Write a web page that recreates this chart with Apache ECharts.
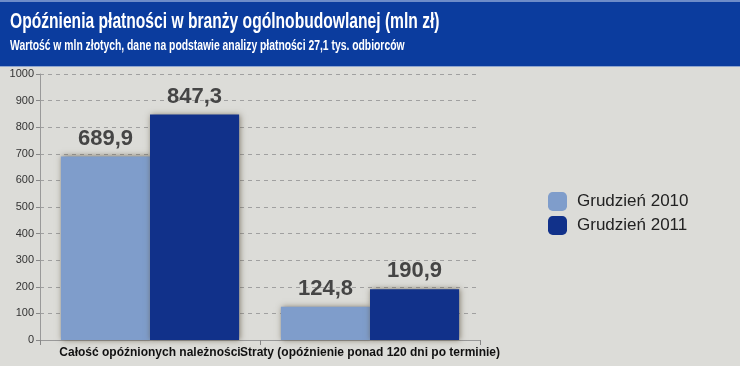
<!DOCTYPE html>
<html><head><meta charset="utf-8">
<script src="https://cdn.jsdelivr.net/npm/echarts@6/dist/echarts.min.js"></script>
<style>html,body{margin:0;padding:0;background:#dcdcd8;}#c{width:740px;height:366px;}</style>
</head><body><div id="c"></div>
<script>
const categories = ['Całość opóźnionych należności', 'Straty (opóźnienie ponad 120 dni po terminie)'];
const seriesNames = ['Grudzień 2010', 'Grudzień 2011'];
const values2010 = [689.9, 124.8];
const values2011 = [847.3, 190.9];
const titleText = 'Opóźnienia płatności w branży ogólnobudowlanej (mln zł)';
const subtitleText = 'Wartość w mln złotych, dane na podstawie analizy płatności 27,1 tys. odbiorców';

const FN = '"Liberation Sans", Arial, sans-serif';
const chart = echarts.init(document.getElementById('c'));
const lbl = {
  show: true, position: 'top', distance: 7,
  formatter: p => p.value.toFixed(1).replace('.', ','),
  fontFamily: FN, fontWeight: 'bold', fontSize: 22, color: '#454545'
};
chart.setOption({
  backgroundColor: '#dcdcd8',
  animation: false,
  graphic: [
    { type: 'rect', shape: { x: 0, y: 0, width: 740, height: 66 }, style: { fill: '#0b3c9e' }, z: 0 },
    { type: 'rect', shape: { x: 0, y: 0, width: 740, height: 2 }, style: { fill: '#6d8cc9' }, z: 1 },
    { type: 'rect', shape: { x: 0, y: 66, width: 740, height: 1 }, style: { fill: '#8fa6d0' }, z: 1 },
    { type: 'text', x: 10, y: 11, scaleX: 0.71, style: { text: titleText, fill: '#fff', font: 'bold 22px ' + FN }, z: 2 },
    { type: 'text', x: 10, y: 39, scaleX: 0.74, style: { text: subtitleText, fill: '#fff', font: 'bold 14px ' + FN }, z: 2 }
  ],
  legend: {
    orient: 'vertical', left: 543, top: 187, itemWidth: 19, itemHeight: 19, itemGap: 5,
    textStyle: { fontFamily: FN, fontSize: 17, color: '#222', padding: [0, 0, 0, 5] },
    data: seriesNames
  },
  grid: { left: 40, right: 260, top: 74, bottom: 26, containLabel: false },
  xAxis: {
    type: 'category', data: categories,
    axisLine: { show: true, lineStyle: { color: '#999' } },
    axisTick: { show: true, alignWithLabel: false, length: 5, lineStyle: { color: '#888' } },
    axisLabel: { interval: 0, margin: 7, fontFamily: FN, fontWeight: 'bold', fontSize: 12, color: '#111' }
  },
  yAxis: {
    type: 'value', min: 0, max: 1000, interval: 100,
    axisLine: { show: true, lineStyle: { color: '#999' } },
    axisTick: { show: true, length: 4, lineStyle: { color: '#888' } },
    axisLabel: { margin: 6, formatter: v => String(v), fontFamily: FN, fontSize: 11, color: '#333' },
    splitLine: { show: true, lineStyle: { color: '#a0a0a0', type: [4, 4] } }
  },
  series: [
    { name: seriesNames[0], type: 'bar', data: values2010, barGap: '0%', barCategoryGap: '19%',
      itemStyle: { color: '#7f9dcb', shadowBlur: 6, shadowColor: 'rgba(90,80,60,0.7)', shadowOffsetX: 1, shadowOffsetY: 0 }, label: lbl },
    { name: seriesNames[1], type: 'bar', data: values2011, barGap: '0%', barCategoryGap: '19%',
      itemStyle: { color: '#11318a', shadowBlur: 6, shadowColor: 'rgba(90,80,60,0.7)', shadowOffsetX: 1, shadowOffsetY: 0 }, label: lbl }
  ]
});
</script></body></html>
